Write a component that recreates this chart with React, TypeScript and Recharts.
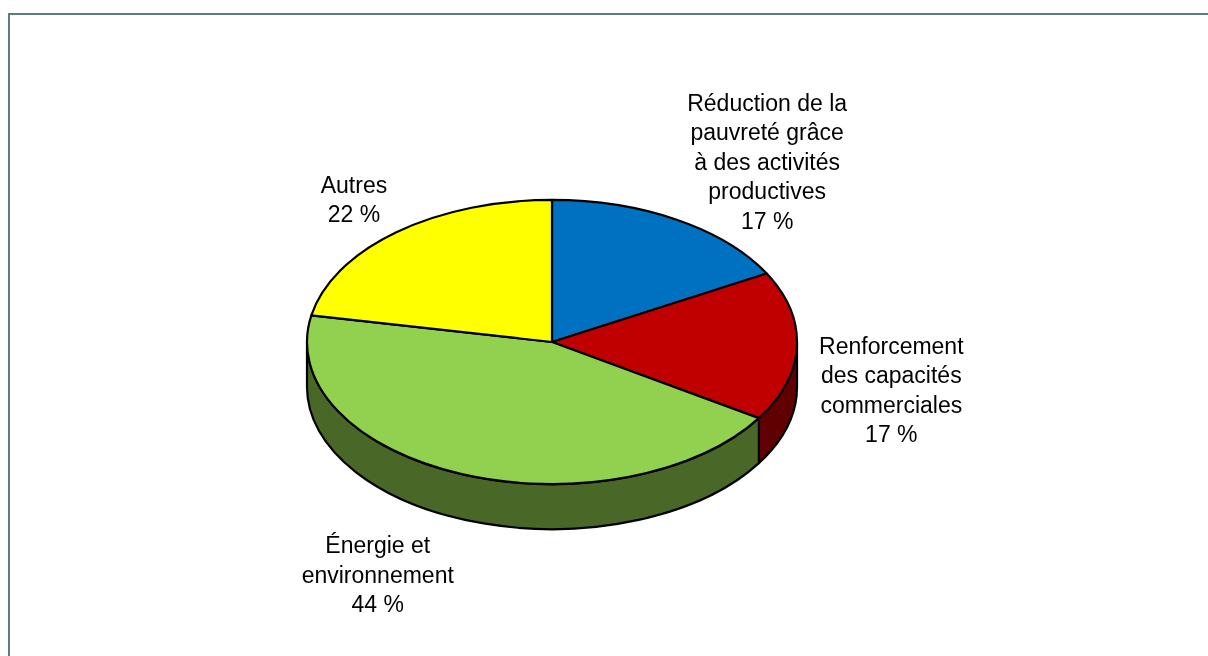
import React from "react";
import { PieChart, Pie } from "recharts";

// Slices, clockwise from 12 o'clock
const CATEGORIES = [
  "Réduction de la pauvreté grâce à des activités productives",
  "Renforcement des capacités commerciales",
  "Énergie et environnement",
  "Autres",
];
const LABEL_LINES = [
  ["Réduction de la", "pauvreté grâce", "à des activités", "productives"],
  ["Renforcement", "des capacités", "commerciales"],
  ["Énergie et", "environnement"],
  ["Autres"],
];
const SHARES = [17, 17, 44, 22];
const COLORS = ["#0070C0", "#C00000", "#92D050", "#FFFF00"];

// layout of the fake 3D pie
const RAD = Math.PI / 180;
const TILT = 0.58; // vertical squash of the disc
const DEPTH = 45; // thickness of the disc
const LINE_H = 29.5;
// label tweak, Excel puts them "best fit"
const LABEL_NUDGE = [
  [53, -21],
  [21, 42],
  [-57, 61],
  [5, 0],
];

const darken = (hex: string, f: number) => {
  const n = parseInt(hex.slice(1), 16);
  const r = Math.round(((n >> 16) & 255) * f);
  const g = Math.round(((n >> 8) & 255) * f);
  const b = Math.round((n & 255) * f);
  return `rgb(${r},${g},${b})`;
};

const pt = (cx: number, cy: number, rx: number, ry: number, a: number) => [
  cx + rx * Math.cos(a * RAD),
  cy - ry * Math.sin(a * RAD),
];

const Slice3D = (props: any) => {
  const { cx, cy, outerRadius, startAngle, endAngle, fill } = props;
  const rx = outerRadius;
  const ry = outerRadius * TILT;
  const [x1, y1] = pt(cx, cy, rx, ry, startAngle);
  const [x2, y2] = pt(cx, cy, rx, ry, endAngle);
  const sweep = endAngle < startAngle ? 1 : 0;
  const large = Math.abs(startAngle - endAngle) > 180 ? 1 : 0;
  const top = `M${cx},${cy} L${x1},${y1} A${rx},${ry} 0 ${large} ${sweep} ${x2},${y2} Z`;

  // side wall: only the front (lower) half of the rim is visible
  const hi = Math.max(startAngle, endAngle);
  const lo = Math.min(startAngle, endAngle);
  const sides: string[] = [];
  [
    [-180, 0],
    [180, 360],
  ].forEach(([a, b]) => {
    const s = Math.max(lo, a);
    const e = Math.min(hi, b);
    if (e > s) {
      const [ex, ey] = pt(cx, cy, rx, ry, e);
      const [sx, sy] = pt(cx, cy, rx, ry, s);
      sides.push(
        `M${ex},${ey} A${rx},${ry} 0 0 1 ${sx},${sy} L${sx},${sy + DEPTH} A${rx},${ry} 0 0 0 ${ex},${ey + DEPTH} Z`
      );
    }
  });

  return (
    <g>
      {sides.map((d, i) => (
        <path
          key={i}
          d={d}
          fill={darken(fill, 0.5)}
          stroke="#000"
          strokeWidth={2.2}
          strokeLinejoin="round"
        />
      ))}
      <path d={top} fill={fill} stroke="#000" strokeWidth={2.2} strokeLinejoin="round" />
    </g>
  );
};

const renderLabel = (props: any) => {
  const { cx, cy, midAngle, outerRadius, index, value } = props;
  const rx = outerRadius * 1.3;
  const ry = outerRadius * TILT * 1.3;
  const [bx, by] = pt(cx, cy, rx, ry, midAngle);
  const x = bx + LABEL_NUDGE[index][0];
  const y = by + LABEL_NUDGE[index][1];
  const lines = [...LABEL_LINES[index], `${value} %`];
  const firstY = y - ((lines.length - 1) / 2) * LINE_H + 8;
  return (
    <text
      key={`lbl-${index}`}
      x={x}
      y={firstY}
      textAnchor="middle"
      fontFamily="'Liberation Sans', Arial, sans-serif"
      fontSize={23}
      fill="#000"
    >
      {lines.map((l, i) => (
        <tspan key={i} x={x} dy={i === 0 ? 0 : LINE_H}>
          {l}
        </tspan>
      ))}
    </text>
  );
};

const data = CATEGORIES.map((name, i) => ({
  name,
  value: SHARES[i],
  fill: COLORS[i],
}));

export default function App() {
  return (
    <div style={{ position: "relative", width: 1192, height: 640, overflow: "hidden" }}>
      <div
        style={{
          position: "fixed",
          top: 13,
          left: 8,
          right: -20,
          bottom: -20,
          borderTop: "2px solid #5f7b7b",
          borderLeft: "2px solid #5f7b7b",
          pointerEvents: "none",
        }}
      />
      <PieChart width={1192} height={640}>
        <Pie
          data={data}
          dataKey="value"
          nameKey="name"
          cx={539}
          cy={329}
          outerRadius={245}
          startAngle={90}
          endAngle={-270}
          shape={Slice3D}
          activeShape={Slice3D}
          label={renderLabel}
          labelLine={false}
          isAnimationActive={false}
        />
      </PieChart>
    </div>
  );
}
